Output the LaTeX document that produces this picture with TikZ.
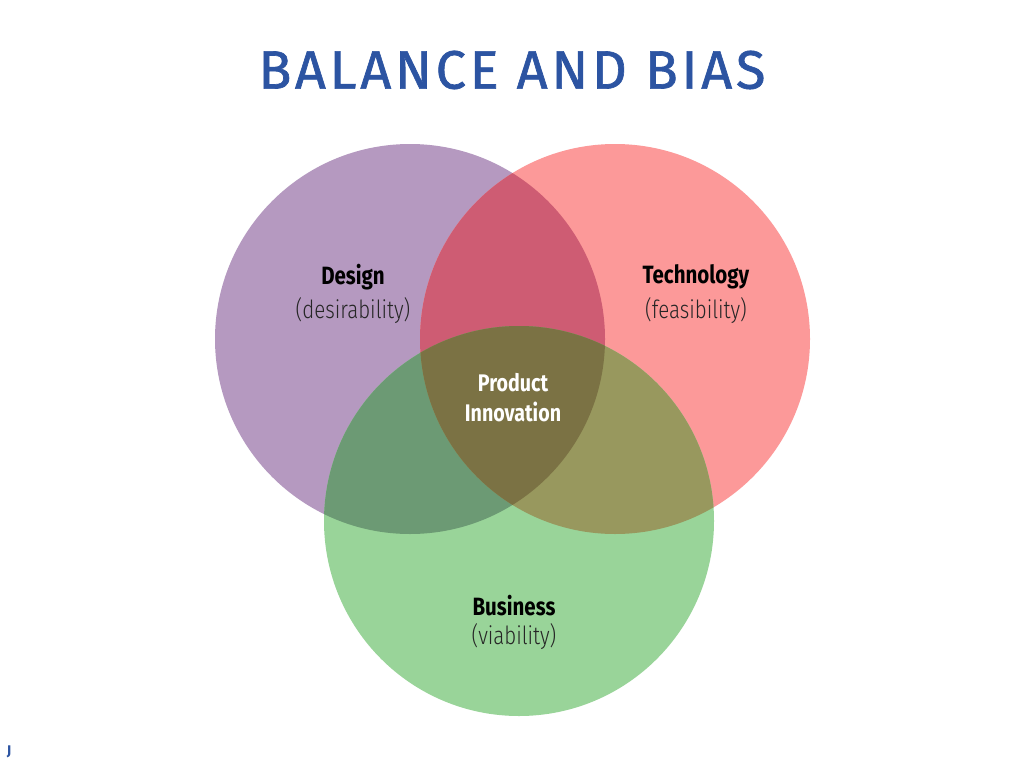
\documentclass[tikz,border=0pt]{standalone}
\usepackage{fontspec}
\setmainfont{Fira Sans}
\newfontfamily\titlefont[LetterSpace=7,FakeBold=1.2]{Fira Sans}
\newfontfamily\condfont[FakeStretch=0.82]{Fira Sans}
\newfontfamily\condlight[FakeStretch=0.82]{Fira Sans Light}
\begin{document}
\begin{tikzpicture}[x=1pt,y=-1pt]
\definecolor{cpurple}{RGB}{181,153,192}
\definecolor{cred}{RGB}{252,153,153}
\definecolor{cgreen}{RGB}{153,212,153}
\definecolor{cpr}{RGB}{206,92,115}
\definecolor{cpg}{RGB}{108,154,116}
\definecolor{crg}{RGB}{152,152,94}
\definecolor{call}{RGB}{123,114,68}
\definecolor{ctitle}{RGB}{44,84,162}
\tikzset{
  lblbold/.style={font=\condfont\bfseries\fontsize{25}{27}\selectfont, text=black, inner sep=0pt},
  lbllight/.style={font=\condlight\fontsize{25}{27}\selectfont, text=black!85, inner sep=0pt},
  lblwhite/.style={font=\condfont\bfseries\fontsize{24}{26}\selectfont, text=white, inner sep=0pt}
}
\useasboundingbox[fill=white] (0,0) rectangle (1024,768);
\def\cD{(410,339) circle (195)}
\def\cT{(615,339) circle (195)}
\def\cB{(519,521) circle (195)}
\fill[cpurple] \cD;
\fill[cred] \cT;
\fill[cgreen] \cB;
\begin{scope}\clip \cD; \fill[cpr] \cT; \end{scope}
\begin{scope}\clip \cD; \fill[cpg] \cB; \end{scope}
\begin{scope}\clip \cT; \fill[crg] \cB; \end{scope}
\begin{scope}\clip \cD; \clip \cT; \fill[call] \cB; \end{scope}
\node[font=\titlefont\fontsize{54}{58}\selectfont, text=ctitle, inner sep=0pt] (title) at (512,70) {BALANCE AND BIAS};
\node[lblbold] (design) at (353,277) {Design};
\node[lbllight] (desir) at (353,311) {(desirability)};
\node[lblbold] (tech) at (696,277) {Technology};
\node[lbllight] (feas) at (696,311) {(feasibility)};
\node[lblwhite] (prod) at (513,383) {Product};
\node[lblwhite] (innov) at (513,412) {Innovation};
\node[lblbold] (bus) at (514,606) {Business};
\node[lbllight] (viab) at (514,637) {(viability)};
\node[font=\bfseries\fontsize{14}{15}\selectfont, text=ctitle, inner sep=0pt] (j) at (9,752) {J};
\end{tikzpicture}
\end{document}
